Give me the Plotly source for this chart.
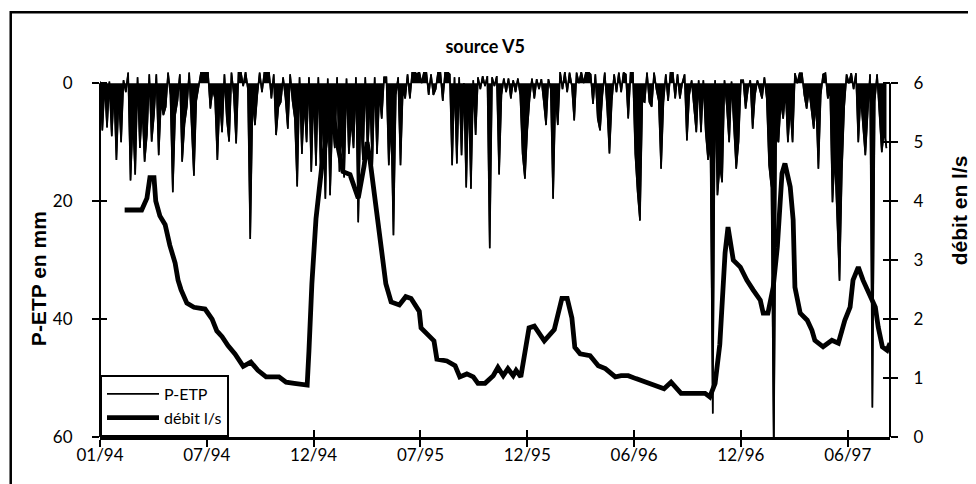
import pandas as pd
import plotly.graph_objects as go

# P-ETP in mm, one reading every 4 days starting 01/01/1994
PETP_START = "1994-01-01"
PETP_STEP = "4D"
petp_mm = [
    -0.3, 8, 0, 7.5, -0.3, 9, 1, 13, 2, 10,
    -0.5, 1.5, -1.8, 16.5, 6, 15.5, -1, 11, 4, 13.3,
    8.7, -1.5, 9.9, 5.4, -1.5, 12.2, 3, 5.4, 4, -1.8,
    2, 18.5, 5.4, 3, -1.5, 13.3, 6.9, 4, -1.8, 8,
    15.7, 3, 0.6, -1.8, -1.9, -1.9, -1.8, 4.3, 1, 2.6,
    13, 2.6, 8.3, -1.5, 6, 9.9, -1.8, 2, 10.2, -1.8,
    -1.9, 0.5, -1.9, 1, 26.4, 2.6, 7.1, 2, -1.8, 1.5,
    -1.8, -1.9, -1.9, 2.6, -1.5, 8.8, 4, 3.2, -1, 2.5,
    7.7, -1.5, 3, 6, 17.5, -1, 12, 3, 10, -1,
    15, 1, 14, -1, 15, 4, 19.6, -0.8, 19, 6,
    11, -1, 15, 8, 16, -0.8, 12, 6, 11, -1,
    23.6, 5, 13, -1, 12, 2, 13.9, -1, 12, 1.5,
    6, -1, -1, 13.9, 6, 25.8, 2, -1, 13.9, 1,
    2.6, -1.5, 2.6, -1.9, -1.9, -1.5, -1.9, 0, -1.9, -1.9,
    2, -1.5, 2, 1, -1.9, -1.8, 3, -1.9, -1.9, -1.5,
    13.9, -1, 13.6, -1, 12.2, 0, 17.7, 0.5, 17.9, -0.5,
    8.8, -1, 1, -1.2, 0.5, -1.2, 28, -1, 0.5, -1.2,
    15.5, 2, -0.8, 1.5, -0.8, 2.6, -0.5, 1.5, -0.8, 2,
    12, 16.2, 8, 2.6, -0.8, 2.6, -0.7, 1, -0.7, 3,
    7.1, -0.7, 1, 19.6, 2, 7.1, -1.9, 1, -1.9, 1.5,
    -1.8, 0.5, 6.3, -1.8, 0, -1.9, 0, -1.9, -1.9, -1.5,
    3.5, -1.5, 6, 8, 2, -1.8, 4, 11.9, 3, -1.5,
    1.5, -1.8, 1.5, -1.8, -1.5, 6, -1.8, -1.8, 12, 18.5,
    23.3, 3, 3.2, -1.8, 3.2, 4, -1.8, 1, 3, 14.5,
    3.2, -1.5, 3, -1.8, -1.8, 2.6, -1.5, 2.6, 0, -1.5,
    9.7, 2, -0.5, 4, 8.3, -0.5, 8.3, -0.5, 8.3, 13,
    10, 56, -0.5, 19, 13.9, 16.8, -0.5, 4, 10, -0.3,
    7, 14.5, 9.9, -0.5, -0.5, 4.3, 1, -0.5, 7.7, 2,
    -0.5, 1, 2.6, -1, 2.6, 13.9, 17.7, 63, 9, 10,
    3, 6, 1, 10, 4, 10, -1.7, 0, -1.7, -1.7,
    2, 4.3, 1, 4.3, 7.7, 3, 14.5, 2, -1.5, -1.7,
    2.6, 1, 20.2, 12, 24.2, 33.5, 15, 4, -1.5, 0,
    -1.7, 1, -1.7, 10, 2, 8, 12.2, 5, -1.5, 55,
    3, -1.5, 6, 11.7, 8, 11,
]

# spring discharge (l/s)
debit_dates = [
    "1994-02-12", "1994-03-13", "1994-03-22", "1994-03-27", "1994-04-03",
    "1994-04-06", "1994-04-13", "1994-04-22", "1994-04-30", "1994-05-09",
    "1994-05-14", "1994-05-19", "1994-05-29", "1994-06-10", "1994-06-29",
    "1994-07-11", "1994-07-19", "1994-07-28", "1994-08-07", "1994-08-19",
    "1994-09-02", "1994-09-10", "1994-09-15", "1994-09-27", "1994-10-11",
    "1994-11-02", "1994-11-14", "1994-11-28", "1994-12-20", "1994-12-23",
    "1994-12-28", "1995-01-04", "1995-01-14", "1995-01-25", "1995-02-02",
    "1995-02-11", "1995-02-19", "1995-03-03", "1995-03-12", "1995-03-17",
    "1995-03-27", "1995-04-01", "1995-04-06", "1995-04-15", "1995-04-23",
    "1995-05-03", "1995-05-12", "1995-05-26", "1995-06-06", "1995-06-15",
    "1995-06-29", "1995-07-02", "1995-07-16", "1995-07-24", "1995-07-29",
    "1995-08-15", "1995-08-29", "1995-09-06", "1995-09-18", "1995-09-29",
    "1995-10-07", "1995-10-19", "1995-11-02", "1995-11-10", "1995-11-19",
    "1995-11-27", "1995-12-06", "1995-12-11", "1995-12-19", "1995-12-24",
    "1996-01-02", "1996-01-11", "1996-01-28", "1996-02-14", "1996-02-27",
    "1996-03-07", "1996-03-15", "1996-03-20", "1996-03-29", "1996-04-15",
    "1996-04-29", "1996-05-11", "1996-05-28", "1996-06-07", "1996-06-19",
    "1996-07-02", "1996-07-19", "1996-08-05", "1996-08-19", "1996-08-31",
    "1996-09-17", "1996-10-09", "1996-10-28", "1996-11-05", "1996-11-14",
    "1996-11-22", "1996-12-01", "1996-12-06", "1996-12-15", "1996-12-27",
    "1997-01-07", "1997-01-18", "1997-01-30", "1997-02-04", "1997-02-12",
    "1997-02-21", "1997-02-28", "1997-03-08", "1997-03-13", "1997-03-22",
    "1997-03-27", "1997-03-30", "1997-04-08", "1997-04-20", "1997-04-28",
    "1997-05-03", "1997-05-17", "1997-06-01", "1997-06-12", "1997-06-23",
    "1997-07-02", "1997-07-07", "1997-07-16", "1997-07-24", "1997-08-05",
    "1997-08-14", "1997-08-19", "1997-08-26", "1997-09-03", "1997-09-08",
]
debit_ls = [
    3.85, 3.85, 4.05, 4.4, 4.4,
    4.0, 3.75, 3.6, 3.25, 2.95,
    2.66, 2.5, 2.27, 2.2, 2.17,
    2.0, 1.8, 1.7, 1.55, 1.41,
    1.2, 1.25, 1.27, 1.13, 1.02,
    1.02, 0.93, 0.91, 0.88, 1.46,
    2.6, 3.7, 4.6, 5.3, 5.5,
    4.9, 4.5, 4.45, 4.2, 4.05,
    4.6, 5.0, 4.7, 4.0, 3.5,
    2.6, 2.29, 2.24, 2.38, 2.35,
    2.13, 1.85, 1.71, 1.63, 1.32,
    1.29, 1.21, 1.02, 1.07, 1.02,
    0.91, 0.91, 1.04, 1.18, 1.04,
    1.16, 1.04, 1.13, 1.02, 1.29,
    1.85, 1.88, 1.63, 1.82, 2.35,
    2.35, 2.02, 1.52, 1.41, 1.38,
    1.21, 1.16, 1.02, 1.04, 1.04,
    0.99, 0.93, 0.88, 0.82, 0.93,
    0.74, 0.74, 0.74, 0.68, 0.91,
    1.57, 3.12, 3.56, 3.0, 2.88,
    2.66, 2.49, 2.32, 2.1, 2.1,
    2.54, 3.22, 4.47, 4.64, 4.24,
    3.68, 2.54, 2.1, 1.98, 1.81,
    1.64, 1.53, 1.64, 1.59, 1.98,
    2.2, 2.66, 2.88, 2.66, 2.37,
    2.2, 1.86, 1.53, 1.47, 1.59,
]

tick_dates = [
    "1994-01-01", "1994-07-02", "1994-12-31", "1995-07-01",
    "1995-12-30", "1996-06-29", "1996-12-28", "1997-06-28",
]
tick_labels = ["01/94", "07/94", "12/94", "07/95", "12/95", "06/96", "12/96", "06/97"]
petp_ticks = [0, 20, 40, 60]
debit_ticks = [0, 1, 2, 3, 4, 5, 6]

X_RANGE = ["1994-01-01", "1997-09-08"]
PETP_RANGE = [60, -1.9]
DEBIT_RANGE = [0, 6.19]

TICK_FONT = dict(family="Lato", size=17, color="black")
TITLE_FONT = dict(family="Liberation Sans", size=21, color="black")


def tick_axis(**kwargs) -> dict:
    """
    Common axis settings: black ticks, no grid, fixed margins.
    """
    axis = dict(
        showgrid=False,
        zeroline=False,
        automargin=False,
        ticks="outside",
        ticklen=7,
        tickwidth=2,
        tickcolor="black",
        tickfont=TICK_FONT,
    )
    axis.update(kwargs)
    return axis


petp_dates = pd.date_range(PETP_START, periods=len(petp_mm), freq=PETP_STEP)

fig = go.Figure()
# the dense daily trace reads as a solid black comb hanging from 0
fig.add_trace(
    go.Scatter(
        x=petp_dates, y=petp_mm, mode="lines", fill="tozeroy",
        fillcolor="black", line=dict(color="black", width=1.4),
        showlegend=False, hoverinfo="skip",
    )
)
fig.add_trace(
    go.Scatter(
        x=petp_dates, y=petp_mm, name="P-ETP", mode="lines",
        line=dict(color="black", width=1.6), legendgroup="a",
    )
)
fig.add_trace(
    go.Scatter(
        x=debit_dates, y=debit_ls, name="débit l/s", mode="lines", yaxis="y2",
        line=dict(color="black", width=4.8), legendgroup="b",
    )
)
# empty traces carrying the inner halves of the crossing tick marks
fig.add_trace(go.Scatter(x=[], y=[], xaxis="x2", yaxis="y3", showlegend=False))
fig.add_trace(go.Scatter(x=[], y=[], xaxis="x", yaxis="y4", showlegend=False))

# the page body adds an 8 px margin, so the figure is 8 px smaller on each axis
fig.update_layout(
    width=968,
    height=476,
    margin=dict(l=92, r=86, t=64, b=47, autoexpand=False),
    paper_bgcolor="white",
    plot_bgcolor="white",
    showlegend=True,
    title=dict(
        text="<b>source V5</b>", x=0.493, xref="container", xanchor="center",
        y=0.918, yref="container", yanchor="middle", automargin=False,
        font=dict(family="Lato", size=18, color="black"),
    ),
    xaxis=tick_axis(
        type="date", range=X_RANGE, tickmode="array", tickvals=tick_dates,
        ticktext=tick_labels, showline=True, linewidth=2.5, linecolor="black",
        ticklabelstandoff=-6,
    ),
    xaxis2=tick_axis(
        type="date", range=X_RANGE, tickmode="array", tickvals=tick_dates,
        overlaying="x", anchor="y", side="bottom", ticks="inside",
        showticklabels=False, showline=False,
    ),
    yaxis=tick_axis(
        range=PETP_RANGE, tickmode="array", tickvals=petp_ticks,
        showline=False, ticklabelstandoff=16,
    ),
    yaxis2=tick_axis(
        range=DEBIT_RANGE, tickmode="array", tickvals=debit_ticks,
        overlaying="y", side="right", anchor="x", showline=False,
        ticklabelstandoff=12,
    ),
    yaxis3=tick_axis(
        range=PETP_RANGE, tickmode="array", tickvals=petp_ticks,
        overlaying="y", side="left", anchor="x", ticks="inside",
        showticklabels=False, showline=False,
    ),
    yaxis4=tick_axis(
        range=DEBIT_RANGE, tickmode="array", tickvals=debit_ticks,
        overlaying="y", side="right", anchor="x", ticks="inside",
        showticklabels=False, showline=False,
    ),
    legend=dict(
        x=0, y=0, xanchor="left", yanchor="bottom",
        bgcolor="white", bordercolor="black", borderwidth=2,
        font=dict(family="Lato", size=16, color="black"),
        itemwidth=52, tracegroupgap=0,
    ),
    annotations=[
        dict(
            text="<b>P-ETP en mm</b>", textangle=-90, showarrow=False,
            xref="paper", yref="paper", x=-0.077, y=0.433,
            xanchor="center", yanchor="middle", font=TITLE_FONT,
        ),
        dict(
            text="<b>débit en l/s</b>", textangle=-90, showarrow=False,
            xref="paper", yref="paper", x=1.089, y=0.622,
            xanchor="center", yanchor="middle", font=TITLE_FONT,
        ),
    ],
    shapes=[
        # y axis lines, drawn only over the labelled span
        dict(type="line", xref="paper", yref="y", x0=0, x1=0, y0=0, y1=60,
             line=dict(color="black", width=2)),
        dict(type="line", xref="paper", yref="y", x0=1, x1=1, y0=0, y1=60,
             line=dict(color="black", width=2)),
        # outer frame of the figure
        dict(type="rect", xref="paper", yref="paper", x0=-0.113, x1=1.13,
             y0=-0.2, y1=1.164, line=dict(color="black", width=2.5)),
    ],
)

fig.write_html("out.html")
